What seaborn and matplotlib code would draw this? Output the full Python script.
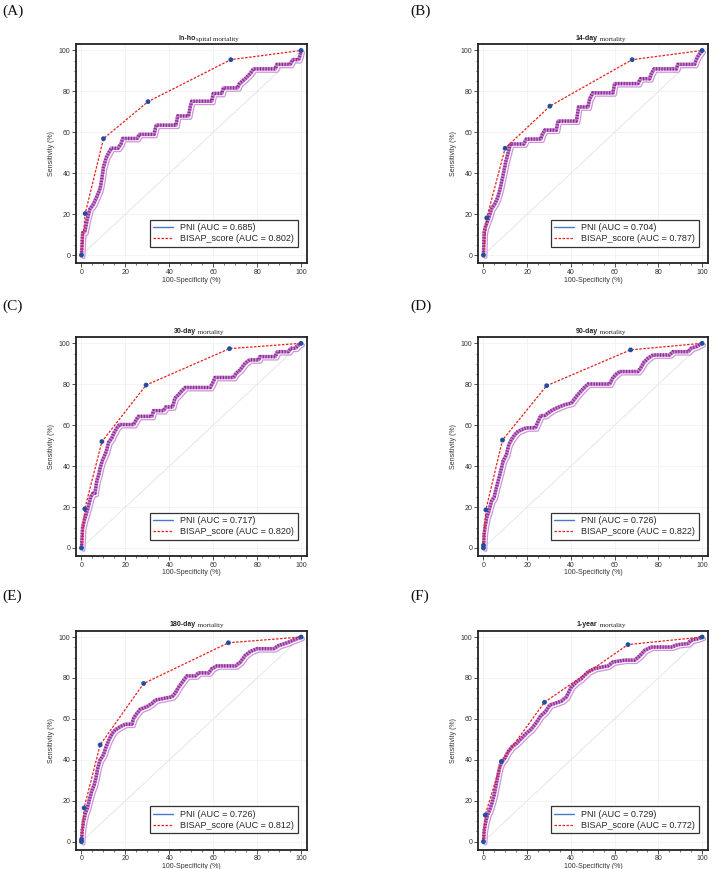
import matplotlib
matplotlib.use('Agg')
import matplotlib.pyplot as plt
import seaborn as sns
import pandas as pd
from matplotlib.lines import Line2D
from matplotlib.ticker import MultipleLocator, AutoMinorLocator
import matplotlib.transforms as mtransforms

# ---- data (100-specificity %, sensitivity %) ----
panel_tags = ['(A)', '(B)', '(C)', '(D)', '(E)', '(F)']
title_bold = ['In-ho', '14-day', '30-day', '90-day', '180-day', '1-year']
title_rest = ['spital mortality', ' mortality', ' mortality', ' mortality', ' mortality', ' mortality']
auc_pni = ['0.685', '0.704', '0.717', '0.726', '0.726', '0.729']
auc_bisap = ['0.802', '0.787', '0.820', '0.822', '0.812', '0.772']

bisap_x = [
    [0, 1.7, 10, 30.3, 68, 100],
    [0, 1.5, 9.9, 30.4, 68, 100],
    [0, 1.5, 9.3, 29.4, 67.4, 100],
    [0, 0, 1.1, 8.7, 28.9, 67.3, 100],
    [0, 0, 1.2, 8.5, 28.3, 66.9, 100],
    [0, 0.8, 8.2, 27.9, 66.1, 100],
]
bisap_y = [
    [0, 20.3, 56.9, 75, 95.5, 100],
    [0, 18.2, 52.2, 72.8, 95.5, 100],
    [0, 19.1, 52, 79.6, 97.4, 100],
    [0, 1.3, 18.6, 52.7, 79.3, 96.8, 100],
    [0, 1.1, 16.5, 47.3, 77.3, 97.2, 100],
    [0, 13, 39.2, 68.1, 96.3, 100],
]

pni_x = [
    [0, 0.5, 1.5, 2.7, 3.9, 5.5, 7.3, 8.5, 9.3, 10, 11.2, 12.4, 13.5, 16.5, 17.9, 18.8, 25.2, 26.4, 33, 34,
     43, 43.8, 48.7, 49.5, 50.2, 59.3, 60, 63.9, 64.6, 71, 71.9, 74.5, 76.8, 78.3, 88.2, 89, 95, 96.2, 98.8,
     99.5, 100],
    [0, 0.3, 0.8, 2.4, 3.7, 5.2, 6.4, 7.5, 8.5, 9.3, 10.2, 11.3, 12.3, 18.4, 19.6, 26.2, 26.9, 28, 33.3, 34.1,
     42.5, 43.5, 47.8, 48.6, 50, 59.2, 60, 70.6, 71.8, 76, 76.8, 78, 88.2, 88.9, 96.5, 97.3, 98.3, 100],
    [0, 0.5, 1.2, 2.1, 3.2, 4.2, 5.2, 6.1, 7, 7.9, 8.5, 9.4, 11.2, 12.4, 13.8, 14.6, 16.1, 17.3, 23.7, 24.9,
     26, 32, 32.8, 37.3, 38.4, 41.4, 42.6, 44.1, 45.7, 47.2, 58.6, 59.8, 60.8, 69.2, 70.4, 72.2, 74.5, 76.5,
     80.6, 81.3, 88.2, 89.2, 94.2, 95.3, 97.3, 98.8, 100],
    [0, 0.3, 0.8, 1.5, 2.4, 3.7, 4.9, 5.9, 6.7, 7.9, 9, 10.5, 11.6, 12.8, 14.3, 15.8, 17.7, 19.6, 23.7, 25,
     26.2, 28, 29.5, 31.8, 34.1, 37.1, 40.2, 42.5, 44.4, 46.3, 47.8, 57.7, 59.2, 60.7, 62.3, 70.6, 71.8, 73.4,
     75.2, 77.5, 85, 86.6, 93.5, 95, 97.3, 100],
    [0, 0.3, 0.9, 1.8, 2.7, 3.6, 4.6, 5.8, 6.7, 7.4, 8.5, 10, 11.2, 12.5, 14, 15.3, 17.6, 19.9, 22.9, 23.7,
     25.2, 26.7, 29.8, 32.1, 33.6, 37.4, 41.2, 42.8, 44.3, 46.5, 48, 51.8, 53.3, 57.9, 59.4, 61.7, 70.1, 72.3,
     74.6, 76.9, 79.9, 87.5, 89.8, 93.6, 97.4, 100],
    [0, 0.3, 0.9, 1.8, 2.9, 4, 4.9, 5.8, 6.7, 7.5, 8.5, 9.7, 11.3, 13.1, 15.1, 17.4, 19.6, 21.9, 24.2, 26.2,
     28.3, 30.3, 32.6, 35.6, 37.9, 40.2, 42.5, 44.7, 47.8, 50.8, 56.9, 59.2, 64.5, 69.1, 71.4, 73.7, 76.7,
     85.8, 88.9, 93.4, 94.9, 98, 100],
]
pni_y = [
    [0, 10.9, 11.5, 18, 22.7, 25, 29.5, 32.7, 37.6, 43, 47.6, 50, 52.2, 52.2, 54.3, 57, 57, 59, 59, 63.5,
     63.5, 68, 68, 72.4, 75.2, 75.2, 79, 79, 81.7, 81.7, 83.8, 86.2, 88.7, 91, 91, 93.2, 93.2, 95.5, 95.5,
     97.6, 100],
    [0, 11, 13.6, 18.2, 22.7, 25.1, 27.9, 31.9, 36.8, 40.8, 45.7, 50.1, 54.3, 54.3, 56.7, 56.7, 59, 61.1,
     61.1, 65.5, 65.5, 72.4, 72.4, 76.5, 79.3, 79.3, 83.8, 83.8, 86.2, 86.2, 88.7, 91, 91, 93.2, 93.2, 95.5,
     97.6, 100],
    [0, 10, 13.3, 16.5, 20.6, 25, 26.7, 26.7, 33, 36, 39.2, 42.5, 47, 51.7, 53.8, 55.9, 58.7, 60.3, 60.3,
     62.7, 64.3, 64.3, 67.1, 67.1, 68.9, 68.9, 73.3, 74.9, 76.8, 78.4, 78.4, 80.9, 83.3, 83.3, 85.4, 87, 90.3,
     91.9, 91.9, 93.5, 93.5, 95.9, 95.9, 97.6, 97.6, 99.2, 100],
    [0, 6.8, 10.9, 14.9, 17.8, 23, 25, 29.5, 32.7, 37.6, 42.5, 45.7, 50.6, 53, 55.4, 57, 57.9, 58.7, 58.7,
     61.9, 64.7, 64.7, 66, 67.6, 68.7, 70, 70.8, 74.1, 76.5, 78.6, 80.1, 80.1, 83.3, 84.9, 86.2, 86.2, 87.8,
     90.8, 92.7, 94.3, 94.3, 95.9, 95.9, 97.6, 98.4, 100],
    [0, 5.2, 10, 14.1, 16.5, 20.6, 24.6, 27.9, 31.9, 36, 40, 42.5, 46.5, 49.8, 53, 54.6, 56.2, 57.4, 57.4,
     60.3, 62.7, 64.7, 66, 67.6, 69.2, 70, 70.8, 72.9, 75.7, 78.9, 81, 81, 82.5, 82.5, 84.6, 85.9, 85.9, 87.8,
     91.1, 93, 94.3, 94.3, 95.9, 97.2, 98.9, 100],
    [0, 5.2, 9.2, 13, 15.7, 19.4, 23, 27.9, 32.7, 36.8, 39.2, 40.8, 44.1, 46.5, 48.1, 50.6, 53, 55.1, 58.3,
     61.6, 63.5, 66.8, 67.6, 68.7, 70.8, 75.7, 78.1, 79.7, 83, 84.6, 85.9, 87.8, 88.7, 88.7, 90.8, 93.5, 95.1,
     95.1, 96.3, 96.8, 98.4, 99.2, 100],
]

diag = [0, 100]

# ---- style ----
sns.set_theme(style='ticks')
plt.rcParams['font.family'] = ['Liberation Sans', 'DejaVu Sans']
plt.rcParams['axes.linewidth'] = 1.3
plt.rcParams['axes.edgecolor'] = '#222222'

fig = plt.figure(figsize=(7.13, 8.69), dpi=100)

col_left = [0.1066, 0.6704]
col_width = [0.324, 0.3226]
row_bottom = [0.697, 0.360, 0.022]
row_height = 0.252

tag_pos = [(0.003, 0.995), (0.575, 0.995), (0.003, 0.655), (0.575, 0.655), (0.003, 0.322), (0.575, 0.322)]

for i in range(6):
    r, c = divmod(i, 2)
    ax = fig.add_axes([col_left[c], row_bottom[r], col_width[c], row_height])

    # reference diagonal
    sns.lineplot(x=diag, y=diag, ax=ax, color='#e6e6e6', lw=0.7, estimator=None, sort=False)

    # PNI curve: blue line under a band of purple squares (MedCalc style)
    px, py = pni_x[i], pni_y[i]
    sns.lineplot(x=px, y=py, ax=ax, color='#4a78c8', lw=0.8, estimator=None, sort=False, zorder=2)
    shift = mtransforms.offset_copy(ax.transData, fig=fig, x=2.0, y=-2.0, units='dots')
    ax.plot(px, py, color='#cf93d8', lw=2.8, transform=shift, zorder=3)
    ax.plot(px, py, color='white', lw=1.0, transform=shift, zorder=3)
    ax.plot(px, py, color='#c583cf', lw=2.5, zorder=4)
    ax.plot(px, py, color='#8e2a94', lw=2.5, linestyle=(0, (0.35, 0.45)), zorder=4)

    # BISAP score
    sns.lineplot(x=bisap_x[i], y=bisap_y[i], ax=ax, color='#e8201c', lw=0.9,
                 linestyle=(0, (2.0, 1.2)), estimator=None, sort=False, zorder=5)
    sns.scatterplot(x=bisap_x[i], y=bisap_y[i], ax=ax, color='#1f4f9f', s=12, marker='o',
                    edgecolor='none', zorder=6)

    ax.set_xlim(-2.5, 102.7)
    ax.set_ylim(-4, 103)
    ax.xaxis.set_major_locator(MultipleLocator(20))
    ax.yaxis.set_major_locator(MultipleLocator(20))
    ax.xaxis.set_minor_locator(AutoMinorLocator(4))
    ax.yaxis.set_minor_locator(AutoMinorLocator(4))
    ax.tick_params(which='major', direction='out', length=3, width=0.6, labelsize=5, pad=1, colors='#333333')
    ax.tick_params(which='minor', direction='out', length=1.5, width=0.5, colors='#333333')
    ax.grid(True, which='major', color='#f0f0f0', lw=0.5)
    ax.set_axisbelow(True)
    ax.set_xlabel('100-Specificity (%)', fontsize=5, labelpad=0.5, color='#333333')
    ax.set_ylabel('Sensitivity (%)', fontsize=5, labelpad=3, color='#333333')

    # title: bold sans part + serif part
    ax.text(0.52, 1.012, title_bold[i], transform=ax.transAxes, ha='right', va='bottom',
            fontsize=5, fontweight='bold', color='#222222')
    ax.text(0.52, 1.012, title_rest[i], transform=ax.transAxes, ha='left', va='bottom',
            fontsize=5, family='Liberation Serif', color='#222222')

    handles = [Line2D([0], [0], color='#4a78c8', lw=1.0),
               Line2D([0], [0], color='#e8201c', lw=0.9, linestyle=(0, (2.0, 1.2)))]
    labels = [f'PNI (AUC = {auc_pni[i]})', f'BISAP_score (AUC = {auc_bisap[i]})']
    leg = ax.legend(handles, labels, loc='lower right', bbox_to_anchor=(0.98, 0.055), fontsize=6.5,
                    frameon=True, fancybox=False, edgecolor='#333333', framealpha=1,
                    borderpad=0.4, handlelength=2.2, handletextpad=0.8, labelspacing=0.2)
    leg.get_frame().set_linewidth(0.9)
    leg.set_zorder(10)

    fig.text(tag_pos[i][0], tag_pos[i][1], panel_tags[i], ha='left', va='top',
             fontsize=11, family='Liberation Serif', color='#111111')

fig.savefig('out.png', dpi=100)
